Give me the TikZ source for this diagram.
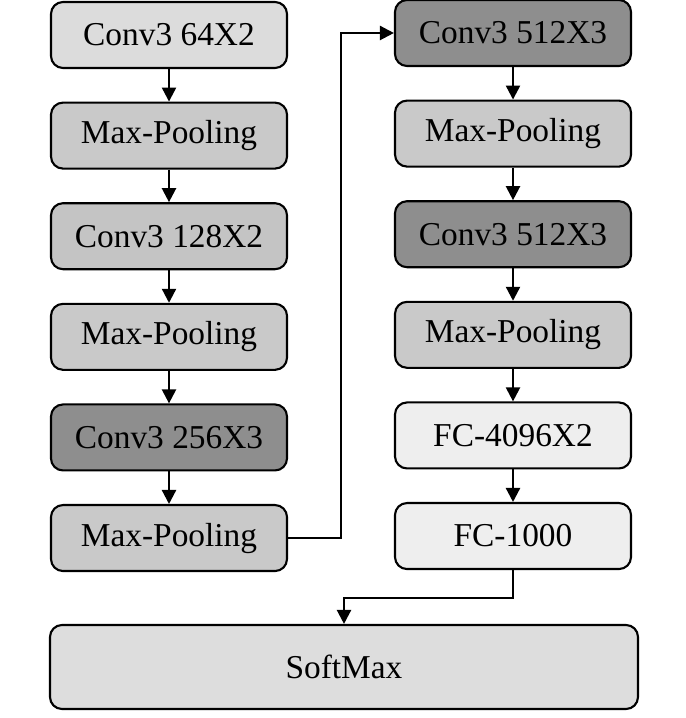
\documentclass[tikz,border=0pt]{standalone}
\usepackage{fontspec}
\setmainfont{Liberation Serif}
\usepackage{xcolor}
\usepackage{tikz}
\usetikzlibrary{positioning, arrows.meta}

\definecolor{conv-light}{HTML}{DCDCDC}
\definecolor{conv-mid}{HTML}{C4C4C4}
\definecolor{conv-dark}{HTML}{8E8E8E}
\definecolor{pool}{HTML}{C9C9C9}
\definecolor{fc}{HTML}{EEEEEE}
\definecolor{soft}{HTML}{DDDDDD}

\begin{document}
\begin{tikzpicture}[node distance = .65]
  \tikzstyle{layer}=[rounded corners=.24cm, draw, line width=1.2pt, inner sep = 0,
    minimum width=4.72cm, minimum height=1.32cm, align=center,
    font=\fontsize{19}{22}\selectfont]
  \tikzstyle{pool-node}=[layer, fill=pool]
  \tikzstyle{fc-node}=[layer, fill=fc]
  \tikzstyle{flow}=[line width=1.3pt, -{Triangle[length=.28cm, width=.28cm]}]

  \useasboundingbox (0, 0) rectangle (13.7, -14.36);

  % left column
  \node [layer, fill=conv-light] (L-1) at (3.38, -0.7) {Conv3 64X2};
  \node [pool-node, below = of L-1] (L-2) {Max-Pooling};
  \node [layer, fill=conv-mid, below = of L-2] (L-3) {Conv3 128X2};
  \node [pool-node, below = of L-3] (L-4) {Max-Pooling};
  \node [layer, fill=conv-dark, below = of L-4] (L-5) {Conv3 256X3};
  \node [pool-node, below = of L-5] (L-6) {Max-Pooling};

  % right column
  \node [layer, fill=conv-dark] (R-1) at (10.26, -0.66) {Conv3 512X3};
  \node [pool-node, below = of R-1] (R-2) {Max-Pooling};
  \node [layer, fill=conv-dark, below = of R-2] (R-3) {Conv3 512X3};
  \node [pool-node, below = of R-3] (R-4) {Max-Pooling};
  \node [fc-node, below = of R-4] (R-5) {FC-4096X2};
  \node [fc-node, below = of R-5] (R-6) {FC-1000};

  \node [layer, fill=soft, minimum width=11.76cm, minimum height=1.68cm] (SM) at (6.88, -13.34) {SoftMax};

  \draw [flow] (L-1) -- (L-2);
  \draw [flow] (L-2) -- (L-3);
  \draw [flow] (L-3) -- (L-4);
  \draw [flow] (L-4) -- (L-5);
  \draw [flow] (L-5) -- (L-6);

  \draw [flow] (L-6.east) -- ++(1.06, 0) |- (R-1.west);

  \draw [flow] (R-1) -- (R-2);
  \draw [flow] (R-2) -- (R-3);
  \draw [flow] (R-3) -- (R-4);
  \draw [flow] (R-4) -- (R-5);
  \draw [flow] (R-5) -- (R-6);

  \draw [flow] (R-6.south) -- ++(0, -0.56) -| (SM.north);
\end{tikzpicture}
\end{document}
